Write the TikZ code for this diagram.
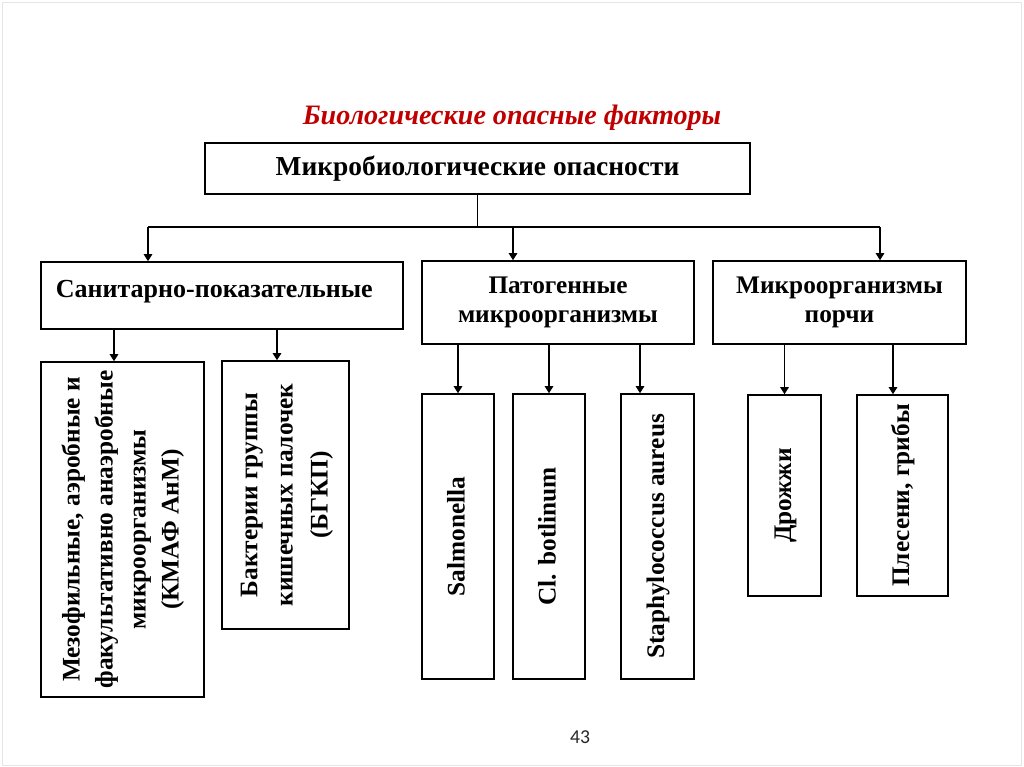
\documentclass[tikz,border=0pt]{standalone}
\usepackage{fontspec}
\setmainfont{Liberation Serif}
\newfontfamily\numfont{Carlito}
\usepackage{graphicx}
\usetikzlibrary{arrows.meta,positioning}

\definecolor{titlered}{HTML}{C00000}

% rotated text block for the tall boxes
\newcommand{\vtext}[2][23.5pt]{%
    \rotatebox{90}{\fontsize{18}{#1}\selectfont
    \begin{tabular}{@{}c@{}}#2\end{tabular}}}

\begin{document}
\begin{tikzpicture}[
    x=0.025cm,
    y=-0.025cm,
    >={Triangle[width=6pt,length=5pt]},
    every node/.style={font=\bfseries\fontsize{18}{21}\selectfont},
    box/.style 2 args={draw,line width=1.1pt,inner sep=0pt,
        minimum width=#1*0.025cm,minimum height=#2*0.025cm,align=center},
    link/.style={line width=1pt}
]

\useasboundingbox (0,0) rectangle (1024,767);
\draw[gray!20] (2,2) rectangle (1021,765);

% ---------------------------------------------------------
% Title and top box
% ---------------------------------------------------------

\node[titlered,font=\bfseries\itshape\fontsize{20}{24}\selectfont]
    (title) at (512,118) {Биологические опасные факторы};

\node[box={545}{51},font=\bfseries\fontsize{19.5}{22}\selectfont]
    (micro) at (477.5,168.5) {Микробиологические опасности};

% ---------------------------------------------------------
% Second level
% ---------------------------------------------------------

\node[box={362}{67},font=\bfseries\fontsize{18.5}{21}\selectfont]
    (sanit) at (222,295.5)
    {\raisebox{9pt}{Санитарно-показательные}\hspace*{11pt}};

\node[box={272}{83}] (patog) at (558,302.5)
    {Патогенные\\микроорганизмы};

\node[box={253}{83}] (porchi) at (839.5,302.5)
    {Микроорганизмы\\порчи};

% bus line
\coordinate (busL) at (148,227);
\coordinate (busM) at (513,227);
\coordinate (busR) at (880,227);

\draw[link] (micro.south) -- (micro.south |- busL);
\draw[link] (busL) -- (busR);
\draw[link,->] (busL) -- (busL |- sanit.north);
\draw[link,->] (busM) -- (busM |- patog.north);
\draw[link,->] (busR) -- (busR |- porchi.north);

% ---------------------------------------------------------
% Third level
% ---------------------------------------------------------

\node[box={163}{335}] (mezo) at (122.5,529.5)
    {\vtext{Мезофильные, аэробные и\\факультативно анаэробные\\
     микроорганизмы\\(КМАФ АнМ)}};

\node[box={127}{268}] (bakt) at (285.5,495)
    {\vtext[25pt]{Бактерии группы\\кишечных палочек\\(БГКП)}};

\node[box={72}{285}] (salm) at (458,536.5) {\vtext{Salmonella}};
\node[box={72}{285}] (clbot) at (549,536.5) {\vtext{Cl. botlinum}};
\node[box={73}{285}] (staph) at (657.5,536.5)
    {\vtext{Staphylococcus aureus}};

\node[box={73}{201}] (drozh) at (784.5,495.5) {\vtext{Дрожжи}};
\node[box={91}{201}] (plesen) at (902.5,495.5) {\vtext{Плесени, грибы}};

% arrows down
\draw[link,->] ([xshift=-8.5*0.025cm]mezo.north |- sanit.south)
    -- ([xshift=-8.5*0.025cm]mezo.north);
\draw[link,->] ([xshift=-8.5*0.025cm]bakt.north |- sanit.south)
    -- ([xshift=-8.5*0.025cm]bakt.north);

\draw[link,->] (salm.north |- patog.south) -- (salm.north);
\draw[link,->] (clbot.north |- patog.south) -- (clbot.north);
\draw[link,->] ([xshift=-17.5*0.025cm]staph.north |- patog.south)
    -- ([xshift=-17.5*0.025cm]staph.north);

\draw[link,->] (drozh.north |- porchi.south) -- (drozh.north);
\draw[link,->] ([xshift=-9.5*0.025cm]plesen.north |- porchi.south)
    -- ([xshift=-9.5*0.025cm]plesen.north);

% page number
\node[font=\numfont\fontsize{14}{16}\selectfont,text=black!85]
    (pnum) at (580,737) {43};

\end{tikzpicture}
\end{document}
